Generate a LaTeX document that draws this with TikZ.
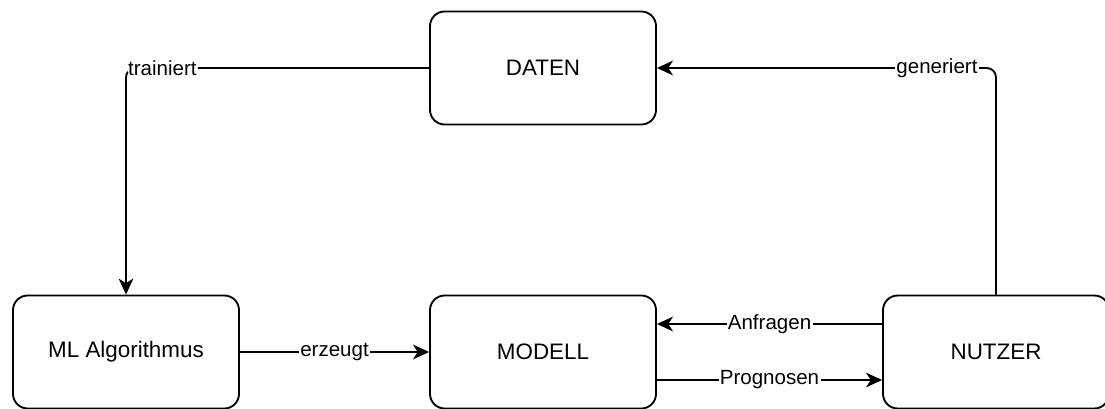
\documentclass[tikz,border=0pt]{standalone}
\usepackage{fontspec}
\setmainfont{Liberation Sans}
\usetikzlibrary{arrows.meta,calc}
\begin{document}
\begin{tikzpicture}[x=0.75pt,y=-0.75pt,
  box/.style={draw,line width=1.4pt,rounded corners=11pt,minimum width=226*0.75pt,minimum height=113*0.75pt,inner sep=0pt,font=\fontsize{16.8}{20}\selectfont},
  conn/.style={line width=1.4pt,-{Stealth[length=12pt,width=11pt,inset=3.5pt]}},
  lbl/.style={fill=white,inner sep=1pt,font=\fontsize{15.4}{18}\selectfont}]
\useasboundingbox (0,0) rectangle (1105,408);
\node[box] (daten) at (543,68) {DATEN};
\node[box] (ml) at (126,352) {ML Algorithmus};
\node[box] (modell) at (543,352) {MODELL};
\node[box] (nutzer) at (996,352) {NUTZER};
\draw[conn,rounded corners=7pt] (daten.west) -| node[lbl,pos=0.44]{trainiert} (ml.north);
\draw[conn,rounded corners=7pt] (nutzer.north) |- node[lbl,pos=0.587]{generiert} (daten.east);
\draw[conn] (ml.east) -- node[lbl]{erzeugt} (modell.west);
\draw[conn] ($(nutzer.west)+(0,-28)$) -- node[lbl]{Anfragen} ($(modell.east)+(0,-28)$);
\draw[conn] ($(modell.east)+(0,28)$) -- node[lbl]{Prognosen} ($(nutzer.west)+(0,28)$);
\end{tikzpicture}
\end{document}
